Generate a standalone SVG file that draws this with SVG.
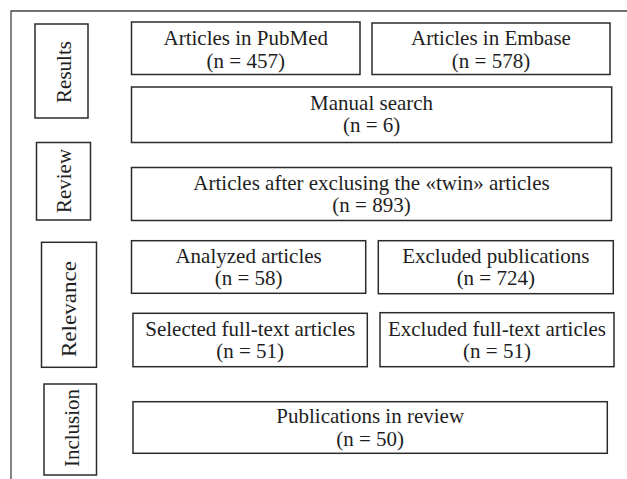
<svg xmlns="http://www.w3.org/2000/svg" width="627" height="479" viewBox="0 0 627 479">
<style>
.b{fill:#fff;stroke:#2b2b2b;stroke-width:1.5}
.f{fill:none;stroke:#444;stroke-width:1.3}
.t{font-family:"Liberation Serif","Times New Roman",serif;font-size:21px;fill:#1e1e1e;text-anchor:middle}
</style>
<rect width="627" height="479" fill="#fff"/>
<g id="frame"><path class="f" d="M11 479V11H627"/></g>
<g id="connectors"></g>
<g id="stage-results"><rect class="b" x="35" y="24" width="53" height="94"/><text class="t" transform="translate(71,72) rotate(-90)">Results</text></g>
<g id="stage-review"><rect class="b" x="36.5" y="142.5" width="54" height="77.5"/><text class="t" transform="translate(70.5,181) rotate(-90)">Review</text></g>
<g id="stage-relevance"><rect class="b" x="41.5" y="242.3" width="55" height="125"/><text class="t" transform="translate(75.5,309) rotate(-90) scale(1.1,1)">Relevance</text></g>
<g id="stage-inclusion"><rect class="b" x="44" y="384" width="52.5" height="91"/><text class="t" transform="translate(79,428) rotate(-90)">Inclusion</text></g>
<g id="pubmed"><rect class="b" x="131.5" y="22" width="228.5" height="52.5"/><text class="t"><tspan x="245.75" y="44.5">Articles in PubMed</tspan><tspan x="245.75" y="67.5">(n = 457)</tspan></text></g>
<g id="embase"><rect class="b" x="372" y="23" width="238" height="51.5"/><text class="t"><tspan x="491" y="45">Articles in Embase</tspan><tspan x="491" y="67.5">(n = 578)</tspan></text></g>
<g id="manual"><rect class="b" x="131.5" y="87" width="480.2" height="55.5"/><text class="t"><tspan x="371.6" y="110">Manual search</tspan><tspan x="371.6" y="132">(n = 6)</tspan></text></g>
<g id="after-twins"><rect class="b" x="131.5" y="167.5" width="480" height="53"/><text class="t"><tspan x="371.5" y="189.5">Articles after exclusing the «twin» articles</tspan><tspan x="371.5" y="211.5">(n = 893)</tspan></text></g>
<g id="analyzed"><rect class="b" x="131.5" y="240.7" width="234.2" height="52.6"/><text class="t"><tspan x="248.6" y="262.5">Analyzed articles</tspan><tspan x="248.6" y="285">(n = 58)</tspan></text></g>
<g id="excluded-pubs"><rect class="b" x="378.3" y="240.7" width="235" height="53"/><text class="t"><tspan x="495.8" y="262.5">Excluded publications</tspan><tspan x="495.8" y="285">(n = 724)</tspan></text></g>
<g id="selected"><rect class="b" x="133" y="313.3" width="234.3" height="53.4"/><text class="t"><tspan x="250.2" y="335.5">Selected full-text articles</tspan><tspan x="250.2" y="357.5">(n = 51)</tspan></text></g>
<g id="excluded-fulltext"><rect class="b" x="380" y="312.7" width="234" height="54"/><text class="t"><tspan x="497" y="335.5">Excluded full-text articles</tspan><tspan x="497" y="357.5">(n = 51)</tspan></text></g>
<g id="publications"><rect class="b" x="133" y="401.7" width="474.3" height="51.6"/><text class="t"><tspan x="370.2" y="423">Publications in review</tspan><tspan x="370.2" y="445.5">(n = 50)</tspan></text></g>
</svg>
